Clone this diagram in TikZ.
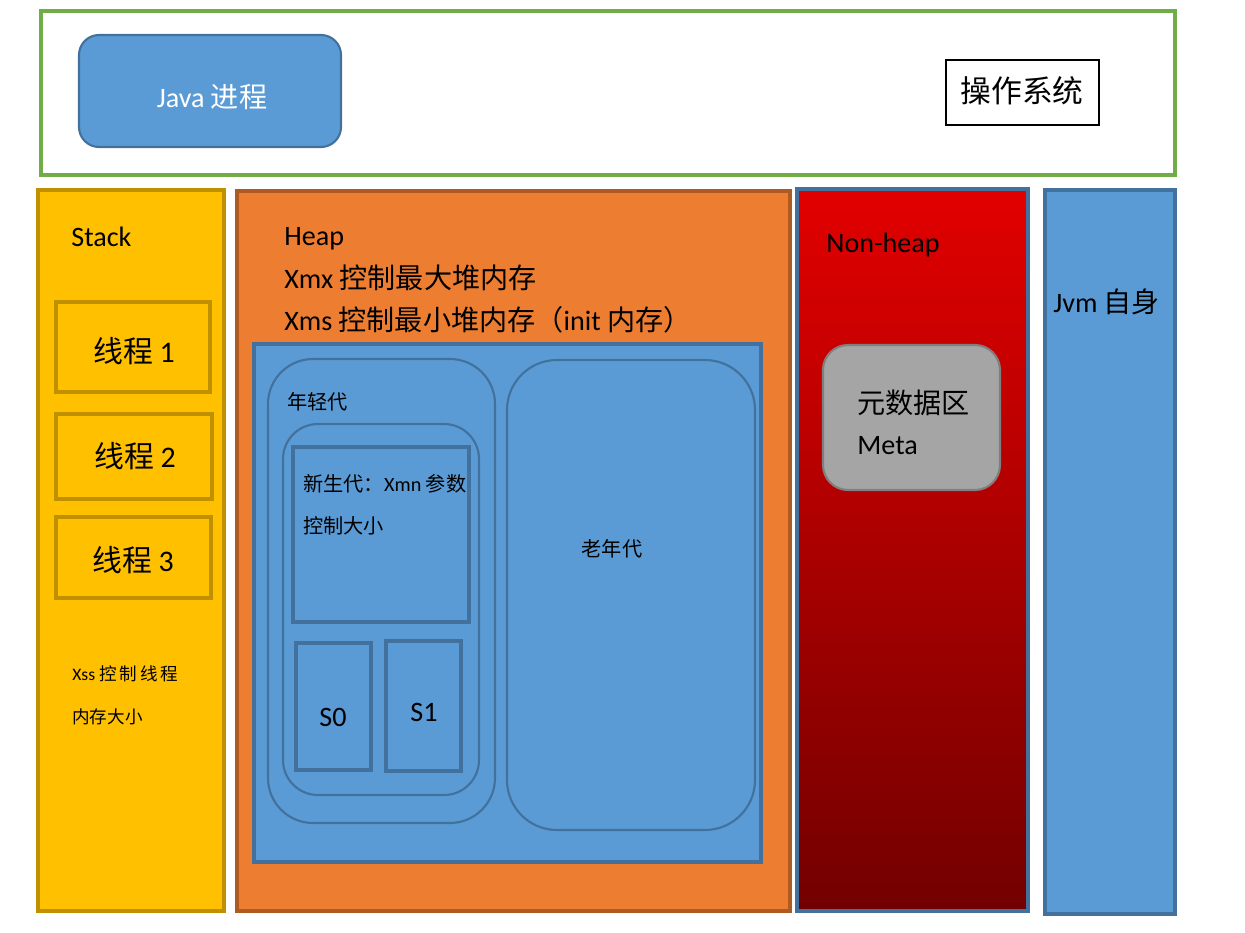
\documentclass[tikz,border=0pt]{standalone}
\usepackage{fontspec}
\setmainfont{Carlito}
\newfontfamily\cjk{Noto Sans CJK SC}
\usepackage{tikz}
\usetikzlibrary{positioning}

\definecolor{osgreen}{HTML}{70AD47}
\definecolor{boxblue}{HTML}{5B9BD5}
\definecolor{lineblue}{HTML}{41719C}
\definecolor{stackfill}{HTML}{FFC000}
\definecolor{stackline}{HTML}{BF9000}
\definecolor{heapfill}{HTML}{ED7D31}
\definecolor{heapline}{HTML}{AE5A21}
\definecolor{nhtop}{HTML}{E20000}
\definecolor{nhmid}{HTML}{C20000}
\definecolor{nhbot}{HTML}{720000}
\definecolor{metafill}{HTML}{A5A5A5}
\definecolor{metaline}{HTML}{7F7F7F}

\tikzset{
  bluebox/.style={fill=boxblue, draw=lineblue, line width=1.8pt},
  genbox/.style={draw=lineblue, line width=1.2pt},
  threadbox/.style={draw=stackline, line width=1.8pt},
  label/.style={inner sep=0pt, anchor=base west, font=\fontsize{16}{18}\selectfont},
  small/.style={inner sep=0pt, anchor=base west, font=\fontsize{11.5}{13}\selectfont}
}

\begin{document}
\begin{tikzpicture}[x=0.02cm, y=-0.02cm]
    \useasboundingbox (0,0) rectangle (1245,933);

    % Top: operating system
    \draw[osgreen, line width=2pt] (41,11) rectangle (1175,175);
    \draw[bluebox, line width=1.2pt, rounded corners=0.4cm] (79,35) rectangle (341,147);
    \node[font=\fontsize{16}{18}\selectfont, text=white] (java) at (212,97) {Java {\cjk 进程}};
    \draw[black, line width=1.2pt] (946,60) rectangle (1099,125);
    \node[font=\fontsize{17.5}{20}\selectfont] (os) at (1022,91) {\cjk 操作系统};

    % Stack
    \draw[fill=stackfill, draw=stackline, line width=2pt] (38,190) rectangle (224,911);
    \node[label] (stack) at (71,246) {Stack};
    \draw[threadbox] (56,302) rectangle (210,392);
    \draw[threadbox] (56,414) rectangle (212,499);
    \draw[threadbox] (56,517) rectangle (211,598);
    \node[font=\fontsize{17}{20}\selectfont] (t1) at (134,351) {{\cjk 线程} 1};
    \node[font=\fontsize{17}{20}\selectfont] (t2) at (135,456) {{\cjk 线程} 2};
    \node[font=\fontsize{17}{20}\selectfont] (t3) at (133,560) {{\cjk 线程} 3};
    \node[small, font=\fontsize{10}{12}\selectfont] (xss) at (72,680) {Xss {\cjk 控\,制\,线\,程}};
    \node[small, font=\fontsize{10}{12}\selectfont] (xss2) at (72,723) {\cjk 内存大小};

    % Heap
    \draw[fill=heapfill, draw=heapline, line width=2pt] (237,191) rectangle (790,911);
    \node[label] (heap) at (284,245) {Heap};
    \node[label] (xmx) at (284,288) {Xmx {\cjk 控制最大堆内存}};
    \node[label] (xms) at (284,330) {Xms {\cjk 控制最小堆内存（}init {\cjk 内存）}};
    \draw[bluebox] (254,344) rectangle (761,862);

    % young / old generation
    \draw[genbox, rounded corners=0.9cm] (268,359) rectangle (495,823);
    \node[small] (young) at (287,409) {\cjk 年轻代};
    \draw[genbox, rounded corners=0.7cm] (283,424) rectangle (479,795);
    \draw[genbox, line width=1.8pt] (293,447) rectangle (469,622);
    \node[small] (eden) at (303,491) {{\cjk 新生代：}Xmn {\cjk 参数}};
    \node[small] (eden2) at (303,533) {\cjk 控制大小};
    \draw[genbox, line width=1.8pt] (296,643) rectangle (371,770);
    \draw[genbox, line width=1.8pt] (386,641) rectangle (461,771);
    \node[font=\fontsize{16}{18}\selectfont] (s0) at (333,717) {S0};
    \node[font=\fontsize{16}{18}\selectfont] (s1) at (424,712) {S1};
    \draw[genbox, rounded corners=1cm] (507,360) rectangle (755,830);
    \node[font=\fontsize{11.5}{13}\selectfont] (old) at (612,549) {\cjk 老年代};

    % Non-heap
    \shade[top color=nhtop, middle color=nhmid, bottom color=nhbot] (797,189) rectangle (1028,911);
    \draw[lineblue, line width=2pt] (797,189) rectangle (1028,911);
    \node[label] (nonheap) at (826,252) {Non-heap};
    \draw[fill=metafill, draw=metaline, line width=1.2pt, rounded corners=0.5cm] (823,345) rectangle (1000,490);
    \node[label] (meta) at (857,413) {\cjk 元数据区};
    \node[label] (meta2) at (857,454) {Meta};

    % Jvm itself
    \draw[bluebox, line width=2pt] (1045,190) rectangle (1175,914);
    \node[label] (jvm) at (1053,312) {Jvm {\cjk 自身}};
\end{tikzpicture}
\end{document}
